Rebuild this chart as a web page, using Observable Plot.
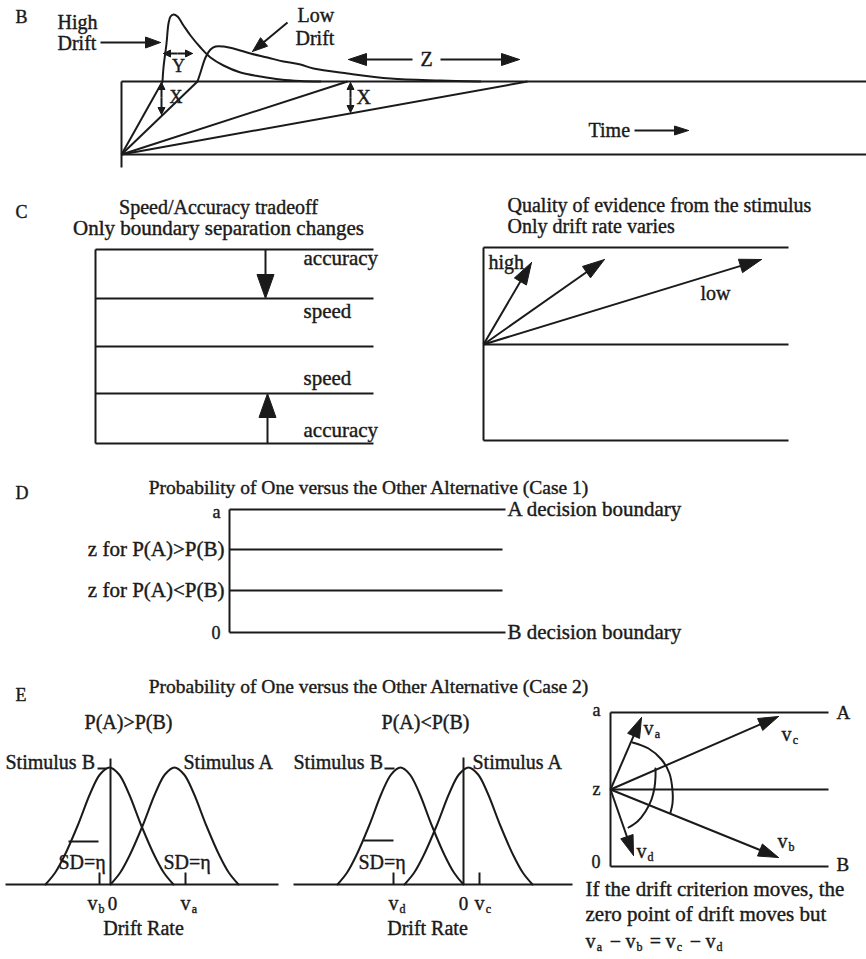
<!DOCTYPE html>
<html><head><meta charset="utf-8">
<script src="https://cdn.jsdelivr.net/npm/d3@7"></script>
<script src="https://cdn.jsdelivr.net/npm/@observablehq/plot@0.6"></script>
<style>body{margin:0;background:#fff}svg{display:block}</style>
</head><body><div id="chart"></div>
<script>
// ---- geometry (figure units) ----
// straight strokes: [x1,y1,x2,y2]
const boundaryLines = [
  // B: boundaries, start axis, drift rays
  [121,81,866,81],[121,154,866,154],[121,81,121,167],
  [121,154,162,81],[121,154,197,81],[121,154,347,81],[121,154,527,81],
  // C left: boundary pairs
  [95,249,373,249],[95,298,373,298],[95,346,373,346],[95,393,373,393],[95,443,373,443],[95,249,95,443],
  // C right
  [483,247,788,247],[483,344,788,344],[483,440,788,440],[483,247,483,440],
  // D
  [229,509,505,509],[229,549,502,549],[229,590,502,590],[229,632,505,632],[229,509,229,632],
  // E left
  [5,884,278,884],[110,758,110,884],[68,841,98,841],[99,872,99,884],[185,872,185,884],[97,768,106,768],
  // E middle
  [293,884,572,884],[463,757,463,884],[363,840,393,840],[393,872,393,884],[479,872,479,884],[384,768,394,768],
  // E right
  [610,712,828,712],[610,789,828,789],[610,866,828,866],[610,712,610,866]
];
// arrows: [x1,y1,x2,y2,headLength,headWidth]
const arrowList = [
  [100,42,160,42,15,11],[287,22,252,51,15,11],
  [412,59,348,59,18,12],[440,59,519,59,18,12],
  [634,130,688,130,14,9],
  [161,97,161,82,7,7],[161,97,161,114,7,7],
  [350,97,350,82,7,7],[350,97,350,112,7,7],
  [177,53,163,53,7,7],[177,53,192,53,7,7],
  [265,249,265,298,24,17],[267,443,267,393,24,17],
  [483,344,531,262,22,14],[483,344,604,259,22,14],[483,344,761,259,22,14],
  [610,789,641,717,20,13],[610,789,778,716,20,13],[610,789,633,855,20,13],[610,789,778,857,20,13]
];
// first-passage time distributions (panel B)
const highDrift = [[162,81],[163,67],[166,43],[168,23],[170,16],[173,14],[177,16],[183,25],[190,35],[200,47],[210,57],[223,65],[240,72],[260,76],[280,79],[300,80.5],[320,81]];
const lowDrift = [[197,81],[200,72],[205,57],[210,49],[215,46],[223,46],[233,48],[250,53],[267,57],[283,61],[300,64],[313,68],[347,73],[390,78],[440,80],[480,81]];
// drift-rate distributions (panel E): bell outline read as offsets / heights
const bellOffsets = [-1,-0.85,-0.7,-0.5,-0.3,-0.15,0,0.15,0.3,0.5,0.7,0.85,1];
const bellHeights = [0,0.1,0.25,0.5,0.78,0.94,1,0.94,0.78,0.5,0.25,0.1,0];
const bellCenters = [109,174,400,468];
const bellHalfWidths = [64,64,63,64];
const bellBase = 884, bellTop = 767;
// criterion arcs (panel E right)
const arcAB = [[632,742],[648,748],[661,759],[669,773],[672,790],[672,803],[670,812]];
const arcCD = [[628,827],[637,821],[645,811],[651,799],[654,787],[655,776],[655,768]];

// ---- text: [text, x, y, anchor, size] ----
const labels = [
  ["B",15,17,"start",18],["High",57,22,"start",20],["Drift",57,43,"start",20],
  ["Low",297,15,"start",20],["Drift",295,38,"start",20],["Z",426,59,"middle",20],
  ["Y",178,66,"middle",18],["X",169,97,"start",18],["X",356,97,"start",20],["Time",588,130,"start",20],
  ["C",15,212,"start",18],
  ["Speed/Accuracy tradeoff",218,207,"middle",20],["Only boundary separation changes",218,228,"middle",21],
  ["accuracy",303,258,"start",21],["speed",303,311,"start",21],["speed",303,378,"start",21],["accuracy",303,430,"start",21],
  ["Quality of evidence from the stimulus",507,205,"start",20],["Only drift rate varies",507,226,"start",20],
  ["high",488,262,"start",20],["low",700,293,"start",20],
  ["D",15,493,"start",18],["Probability of One versus the Other Alternative (Case 1)",368,487,"middle",19.5],
  ["a",220,512,"end",18],["0",220,633,"end",18],
  ["z for P(A)>P(B)",224,549,"end",21],["z for P(A)<P(B)",224,590,"end",21],
  ["A decision boundary",507,509,"start",21],["B decision boundary",507,632,"start",21],
  ["E",15,695,"start",18],["Probability of One versus the Other Alternative (Case 2)",368,686,"middle",19.5],
  ["P(A)>P(B)",128,722,"middle",20],["P(A)<P(B)",425,722,"middle",20],
  ["Stimulus B",5,762,"start",20],["Stimulus A",183,762,"start",20],
  ["Stimulus B",293,762,"start",20],["Stimulus A",472,762,"start",20],
  ["SD=η",58,862,"start",20],["SD=η",163,862,"start",20],["SD=η",358,862,"start",20],
  ["0",112,903,"middle",19],["0",463,903,"middle",19],
  ["Drift Rate",143,928,"middle",20],["Drift Rate",427,928,"middle",20],
  ["a",600,710,"end",18],["z",600,789,"end",18],["0",600,862,"end",18],["A",836,712,"start",19],["B",836,864,"start",19],
  ["If the drift criterion moves, the",585,889,"start",21],["zero point of drift moves but",585,914,"start",21]
];
// symbols with subscripts: [base, subscript, x, y]
const subLabels = [
  ["v","b",92,903],["v","a",185,903],["v","d",393,903],["v","c",479,903],
  ["v","a",648,728],["v","c",786,734],["v","d",641,851],["v","b",782,841],
  ["v","a",590,941],["v","b",630,941],["v","c",670,941],["v","d",710,941]
];
const operators = [["−",615,941],["=",655,941],["−",695,941]];

// ---- build mark tables ----
const segs = boundaryLines.map(([x1,y1,x2,y2]) => ({x1,y1,x2,y2}));
const shafts = [], heads = [];
arrowList.forEach(([x1,y1,x2,y2,L,W], i) => {
  const dx = x2 - x1, dy = y2 - y1, len = Math.hypot(dx, dy);
  const ux = dx / len, uy = dy / len, bx = x2 - ux * L, by = y2 - uy * L;
  shafts.push({x1, y1, x2: bx + ux * 2, y2: by + uy * 2});
  const px = -uy * W / 2, py = ux * W / 2;
  [[x2,y2],[bx+px,by+py],[bx-px,by-py],[x2,y2]].forEach(([x,y]) => heads.push({id:i,x,y}));
});
const curves = [];
[highDrift, lowDrift, arcAB, arcCD].forEach((c, i) => c.forEach(([x,y]) => curves.push({id:"c"+i,x,y})));
const bells = [];
bellCenters.forEach((c, i) => bellOffsets.forEach((u, j) =>
  bells.push({id:i, x: c + u * bellHalfWidths[i], y: bellBase - bellHeights[j] * (bellBase - bellTop)})));
const texts = labels.map(([t,x,y,a,s]) => ({t,x,y,a,s}));
const subs = subLabels.map(([v,s,x,y]) => ({v,s,x,y}));
const ops = operators.map(([t,x,y]) => ({t,x,y}));

const INK = "#1a1a1a", FONT = "Liberation Serif";
const txt = {fill: INK, stroke: INK, strokeWidth: 0.4, fontFamily: FONT};
const chart = Plot.plot({
  width: 866, height: 959, margin: 0,
  x: {domain: [0, 866], range: [0, 866], axis: null},
  y: {domain: [0, 959], range: [0, 959], axis: null},
  style: {background: "white", fontFamily: FONT},
  marks: [
    Plot.link(segs, {x1:"x1", y1:"y1", x2:"x2", y2:"y2", stroke: INK, strokeWidth: 2}),
    Plot.line(curves, {x:"x", y:"y", z:"id", curve:"catmull-rom", stroke: INK, strokeWidth: 2}),
    Plot.line(bells, {x:"x", y:"y", z:"id", curve:"catmull-rom", stroke: INK, strokeWidth: 2}),
    Plot.link(shafts, {x1:"x1", y1:"y1", x2:"x2", y2:"y2", stroke: INK, strokeWidth: 2}),
    Plot.line(heads, {x:"x", y:"y", z:"id", fill: INK, stroke: INK, strokeWidth: 1, curve: "linear"}),
    ...["start","middle","end"].flatMap(a => [...new Set(texts.map(d => d.s))].map(s =>
      Plot.text(texts.filter(d => d.a === a && d.s === s),
        {x:"x", y:"y", text:"t", textAnchor: a, fontSize: s, ...txt}))),
    Plot.text(subs, {x:"x", y:"y", text:"v", fontSize: 20, textAnchor: "middle", ...txt}),
    Plot.text(subs, {x:"x", y:"y", text:"s", dx: 9, dy: 6, fontSize: 12, textAnchor: "middle", ...txt}),
    Plot.text(ops, {x:"x", y:"y", text:"t", fontSize: 20, textAnchor: "middle", ...txt})
  ]
});
document.getElementById("chart").append(chart);
</script></body></html>
